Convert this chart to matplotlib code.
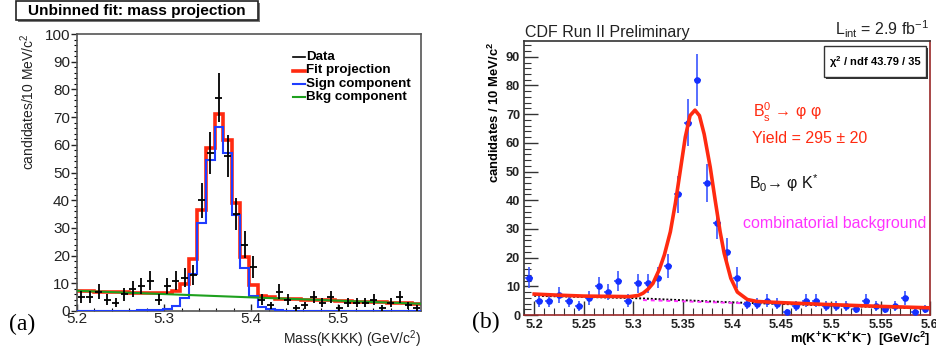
import numpy as np
import matplotlib
matplotlib.use('Agg')
import matplotlib.pyplot as plt
from matplotlib.patches import Rectangle
from matplotlib.lines import Line2D
from matplotlib.ticker import MultipleLocator, FuncFormatter

plt.rcParams['font.family'] = ['Liberation Sans', 'DejaVu Sans']
plt.rcParams['mathtext.fontset'] = 'custom'
plt.rcParams['mathtext.rm'] = 'Liberation Sans'
plt.rcParams['mathtext.it'] = 'Liberation Sans:italic'
plt.rcParams['mathtext.bf'] = 'Liberation Sans:bold'

# ---------------- panel (a) data ----------------
a_bin_edges = np.linspace(5.2, 5.595, 41)
a_counts = [5, 5, 7, 4, 3, 6, 8, 9, 11, 4, 9, 11, 12, 13, 40, 57, 77, 56, 35, 24,
            16, 4, 2, 7, 4, 1, 2, 5, 3, 5, 1, 3, 3, 3, 4, 1, 3, 5, 2, 1]
a_fit = [7.2, 7.1, 7.0, 6.9, 6.8, 6.7, 6.6, 6.5, 6.5, 6.5, 6.4, 7.3, 9.8, 18.6, 36.6,
         59.0, 71.0, 61.6, 39.0, 19.6, 9.4, 5.4, 4.9, 4.4, 4.3, 4.2, 4.1, 4.0, 3.9, 3.8,
         3.6, 3.5, 3.4, 3.3, 3.2, 3.1, 3.0, 2.9, 2.8, 2.7]
a_sig = [0, 0, 0, 0, 0, 0, 0, 0.2, 0.4, 0.5, 0.8, 1.8, 4.6, 13.3, 31.8,
         54.4, 66.4, 57.0, 34.8, 15.4, 5.4, 1.6, 0.6, 0.3, 0.1, 0, 0, 0, 0, 0,
         0, 0, 0, 0, 0, 0, 0, 0, 0, 0]
a_bkg_mass = [5.2, 5.595]
a_bkg = [7.3, 2.6]
a_legend = ['Data', 'Fit projection', 'Sign component', 'Bkg component']

# ---------------- panel (b) data ----------------
b_centers = np.round(np.arange(5.195, 5.6, 0.01), 3)
b_counts = [13, 5, 5, 7, 5, 3, 6, 10, 8, 12, 5, 11, 11, 13, 17, 42, 67, 82, 46, 32,
            22, 13, 4, 4, 5, 4, 1, 3, 5, 5, 3, 3, 3, 2, 5, 3, 2, 3, 6, 1, 2]
b_fit_mass = [5.200, 5.225, 5.250, 5.275, 5.296, 5.305, 5.310, 5.315, 5.320, 5.3266,
              5.3316, 5.3376, 5.3427, 5.3477, 5.3527, 5.3575, 5.3625, 5.3670, 5.3718,
              5.3779, 5.3829, 5.3879, 5.3920, 5.3987, 5.4053, 5.4154, 5.4254, 5.450,
              5.4926, 5.550, 5.600]
b_fit = [7.3, 6.9, 6.6, 6.5, 6.4, 6.8, 7.6, 9.0, 11.0, 16.0,
         21.0, 29.0, 39.0, 50.5, 62.0, 69.5, 71.4, 69.5, 63.0,
         51.5, 40.0, 29.0, 21.5, 12.8, 8.0, 5.4, 4.7, 4.3,
         3.7, 3.0, 2.5]
b_bkg_mass = [5.2, 5.3, 5.4, 5.6]
b_bkg = [6.7, 5.9, 4.4, 2.2]
b_comb_mass = [5.31, 5.42]
b_comb = [5.2, 4.0]

W, H = 936, 354
fx = lambda x: x / W
fy = lambda y: 1 - y / H

fig = plt.figure(figsize=(9.36, 3.54), dpi=100)
fig.patch.set_facecolor('white')

# ================= panel (a) =================
axA = fig.add_axes([fx(77), fy(311), 344 / W, 277 / H])
axA.stairs(a_fit, a_bin_edges, baseline=None, color='#ff2a10', lw=2.6, zorder=2)
axA.stairs(a_sig, a_bin_edges, baseline=None, color='#1f3dff', lw=1.5, zorder=3)
axA.plot(a_bkg_mass, a_bkg, color='#1ea01e', lw=1.5, zorder=4)
a_centers = 0.5 * (a_bin_edges[:-1] + a_bin_edges[1:])
axA.errorbar(a_centers, a_counts, yerr=np.sqrt(a_counts), xerr=0.004, fmt='none',
             ecolor='black', elinewidth=1.3, capsize=0, zorder=5)
axA.set_xlim(5.2, 5.595)
axA.set_ylim(0, 100)
axA.xaxis.set_major_locator(MultipleLocator(0.1))
axA.xaxis.set_minor_locator(MultipleLocator(0.02))
axA.yaxis.set_major_locator(MultipleLocator(10))
axA.yaxis.set_minor_locator(MultipleLocator(2))
axA.xaxis.set_major_formatter(FuncFormatter(lambda v, p: f'{v:g}'))
axA.tick_params(axis='y', which='major', direction='out', length=4, width=1, pad=1,
                labelsize=11, colors='#222222')
axA.tick_params(axis='y', which='minor', direction='out', length=2.5, width=0.8)
axA.tick_params(axis='x', which='major', direction='in', length=5, width=1, pad=1,
                labelsize=11, colors='#222222')
axA.tick_params(axis='x', which='minor', direction='in', length=2.5, width=0.8)
for s in axA.spines.values():
    s.set_color('#555555')
    s.set_linewidth(1.2)

# title box
fig.add_artist(Rectangle((fx(18), fy(22)), 242 / W, 19 / H, transform=fig.transFigure,
                         facecolor='#777777', edgecolor='none', zorder=1))
fig.add_artist(Rectangle((fx(16), fy(20)), 242 / W, 19 / H, transform=fig.transFigure,
                         facecolor='white', edgecolor='#222222', lw=1.2, zorder=2))
fig.text(fx(137), fy(11), 'Unbinned fit: mass projection', ha='center', va='center',
         fontsize=11.1, fontweight='bold', zorder=3)

# legend
leg_colors = ['black', '#ff2a10', '#1f3dff', '#1ea01e']
leg_lw = [1.2, 2.6, 1.5, 1.5]
leg_y = [57, 70.5, 83.5, 97]
for lab, c, lw, yy in zip(a_legend, leg_colors, leg_lw, leg_y):
    fig.add_artist(Line2D([fx(292.5), fx(304.5)], [fy(yy), fy(yy)], color=c, lw=lw,
                          transform=fig.transFigure))
    fig.text(fx(306.5), fy(yy), lab, ha='left', va='center', fontsize=9.6,
             fontweight='bold')

fig.text(fx(28), fy(33), 'candidates/10 MeV/c$^\\mathregular{2}$', rotation=90,
         ha='center', va='top', fontsize=10, color='#222222')
fig.text(fx(421), fy(339), 'Mass(KKKK) (GeV/c$^\\mathregular{2}$)', ha='right',
         va='center', fontsize=10, color='#222222')
fig.text(fx(22), fy(324), '(a)', ha='center', va='center', fontsize=17,
         family='Liberation Serif')

# ================= panel (b) =================
axB = fig.add_axes([fx(524.3), fy(315), 405.7 / W, 274.3 / H])
axB.errorbar(b_centers, b_counts, yerr=np.sqrt(b_counts), xerr=0.004, fmt='o',
             color='#1530ff', ms=4.8, mec='none', ecolor='#3a55ff', elinewidth=1.2,
             capsize=0, zorder=3)
axB.plot(b_bkg_mass, b_bkg, color='black', lw=1.4, ls=(0, (1, 1)), zorder=2)
axB.plot(b_comb_mass, b_comb, color='#ff30ff', lw=1.4, ls=(0, (2, 2)), zorder=2)
axB.plot(b_fit_mass, b_fit, color='#ff2a10', lw=2.6, zorder=4, solid_joinstyle='round')
axB.set_xlim(5.19, 5.60)
axB.set_ylim(0, 95.6)
axB.xaxis.set_major_locator(MultipleLocator(0.05))
axB.xaxis.set_minor_locator(MultipleLocator(0.01))
axB.yaxis.set_major_locator(MultipleLocator(10))
axB.yaxis.set_minor_locator(MultipleLocator(2))
axB.xaxis.set_major_formatter(FuncFormatter(lambda v, p: f'{v:g}'))
axB.tick_params(axis='both', which='major', direction='in', length=10, width=1,
                labelsize=9.2, colors='#333333')
axB.tick_params(axis='both', which='minor', direction='in', length=5, width=0.8,
                colors='#333333')
axB.tick_params(axis='y', which='major', pad=3)
axB.tick_params(axis='x', which='major', pad=3)
for lbl in axB.get_xticklabels() + axB.get_yticklabels():
    lbl.set_fontweight('bold')
    lbl.set_color('#222222')
for side in ['left', 'top']:
    axB.spines[side].set_color('#333333')
for side in ['right', 'bottom']:
    axB.spines[side].set_color('#9a2828')
for s in axB.spines.values():
    s.set_linewidth(1.2)

fig.text(fx(494), fy(42), 'candidates / 10 MeV/c$^\\mathregular{2}$', rotation=90,
         ha='center', va='top', fontsize=9.4, fontweight='bold')
fig.text(fx(930), fy(339),
         'm(K$^\\mathregular{+}$K$^\\mathregular{-}$K$^\\mathregular{+}$K$^\\mathregular{-}$)  [GeV/c$^\\mathregular{2}$]',
         ha='right', va='center', fontsize=9.4, fontweight='bold')
fig.text(fx(486), fy(322), '(b)', ha='center', va='center', fontsize=17,
         family='Liberation Serif')
fig.text(fx(525), fy(32), 'CDF Run II Preliminary', ha='left', va='center',
         fontsize=11.5, color='#222222')
fig.text(fx(929), fy(29), 'L$_\\mathregular{int}$ = 2.9 fb$^\\mathregular{-1}$',
         ha='right', va='center', fontsize=11.5, color='#222222')

# chi2 box
fig.add_artist(Rectangle((fx(826), fy(79)), 102.3 / W, 31 / H, transform=fig.transFigure,
                         facecolor='#333333', edgecolor='none', zorder=5))
fig.add_artist(Rectangle((fx(823.7), fy(76.7)), 102.3 / W, 31 / H, transform=fig.transFigure,
                         facecolor='white', edgecolor='#333333', lw=1.0, zorder=6))
fig.text(fx(828.7), fy(61.7), 'χ$^\\mathregular{2}$ / ndf', ha='left', va='center',
         fontsize=8, fontweight='bold', zorder=7)
fig.text(fx(920.5), fy(61.7), '43.79 / 35', ha='right', va='center',
         fontsize=8, fontweight='bold', zorder=7)

fig.text(fx(753), fy(112), 'B$_\\mathregular{s}^\\mathregular{0}$ → φ φ', ha='left',
         va='center', fontsize=11.5, color='#ff2a10')
fig.text(fx(752), fy(138.3), 'Yield = 295 ± 20', ha='left', va='center',
         fontsize=11.5, color='#ff2a10')
fig.text(fx(749.3), fy(183), 'B$_\\mathregular{0}$→ φ K$^\\mathregular{*}$', ha='left',
         va='center', fontsize=11.5, color='#111111')
fig.text(fx(742.7), fy(223.3), 'combinatorial background', ha='left', va='center',
         fontsize=11.5, color='#ff33ff')

fig.savefig('out.png', dpi=100)
